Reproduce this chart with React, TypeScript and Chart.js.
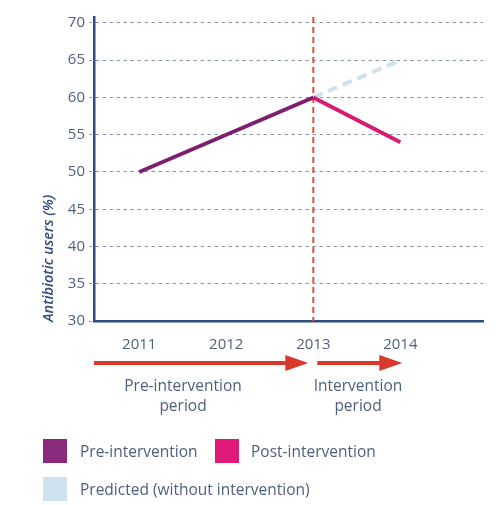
import React, { useEffect, useRef } from "react";
import { Chart, registerables } from "chart.js";

Chart.register(...registerables);

// ---- data ----
const YEARS = [2011, 2012, 2013, 2014];
const PRE_YEARS = [2011, 2013];
const PRE_VALUES = [50, 60];
const POST_YEARS = [2013, 2014];
const POST_VALUES = [60, 54];
const PREDICTED_YEARS = [2013, 2014];
const PREDICTED_VALUES = [60, 65];
const Y_TICKS = [30, 35, 40, 45, 50, 55, 60, 65, 70];
const INTERVENTION_YEAR = 2013;
const SERIES_LABELS = ["Pre-intervention", "Post-intervention", "Predicted (without intervention)"];
const PERIOD_LABELS = [
  ["Pre-intervention", "period"],
  ["Intervention", "period"],
];
const Y_TITLE = "Antibiotic users (%)";

// ---- styles ----
const FONT = "'Open Sans', sans-serif";
const TEXT_COLOR = "#4f5f7e";
const AXIS_COLOR = "#2f4c7e";
const GRID_COLOR = "#8a95ab";
const PRE_COLOR = "#7d1e6f";
const POST_COLOR = "#d81b72";
const PRED_COLOR = "#cde1ee";
const PRE_LEGEND = "#8a2a7c";
const POST_LEGEND = "#e01a78";
const ARROW_COLOR = "#d8392c";
const VLINE_COLOR = "#d4553a";

const toPoints = (xs: number[], ys: number[]) => xs.map((x, i) => ({ x, y: ys[i] }));

const annotationPlugin = {
  id: "annotations",
  beforeDatasetsDraw(chart: any) {
    const { ctx, chartArea, scales } = chart;
    const x = scales.x.getPixelForValue(INTERVENTION_YEAR);
    ctx.save();
    ctx.strokeStyle = VLINE_COLOR;
    ctx.lineWidth = 2;
    ctx.setLineDash([6, 4]);
    ctx.beginPath();
    ctx.moveTo(x, chartArea.top);
    ctx.lineTo(x, chartArea.bottom);
    ctx.stroke();
    ctx.restore();
  },
  afterDraw(chart: any) {
    const { ctx, chartArea, scales } = chart;
    const xs = scales.x;
    const ay = 363;
    const drawArrow = (x0: number, x1: number) => {
      const head = 23;
      const half = 8;
      ctx.save();
      ctx.fillStyle = ARROW_COLOR;
      ctx.strokeStyle = ARROW_COLOR;
      ctx.lineWidth = 4;
      ctx.beginPath();
      ctx.moveTo(x0, ay);
      ctx.lineTo(x1 - head + 1, ay);
      ctx.stroke();
      ctx.beginPath();
      ctx.moveTo(x1, ay);
      ctx.lineTo(x1 - head, ay - half);
      ctx.lineTo(x1 - head, ay + half);
      ctx.closePath();
      ctx.fill();
      ctx.restore();
    };
    const xi = xs.getPixelForValue(INTERVENTION_YEAR);
    const xEnd = xs.getPixelForValue(YEARS[YEARS.length - 1]);
    drawArrow(chartArea.left, xi - 5);
    drawArrow(xi + 4, xEnd + 2);

    // y-axis title
    ctx.save();
    ctx.translate(49, chartArea.bottom + 1);
    ctx.rotate(-Math.PI / 2);
    ctx.font = `italic 600 14.5px ${FONT}`;
    ctx.fillStyle = AXIS_COLOR;
    ctx.textAlign = "left";
    ctx.textBaseline = "middle";
    ctx.fillText(Y_TITLE, 0, 0);
    ctx.restore();
  },
};

export default function App() {
  const ref = useRef<HTMLCanvasElement | null>(null);

  useEffect(() => {
    if (!ref.current) return;
    const chart = new Chart(ref.current, {
      type: "line",
      data: {
        datasets: [
          {
            label: SERIES_LABELS[1],
            data: toPoints(POST_YEARS, POST_VALUES),
            borderColor: POST_COLOR,
            borderWidth: 4,
            pointRadius: 0,
            tension: 0,
          },
          {
            label: SERIES_LABELS[0],
            data: toPoints(PRE_YEARS, PRE_VALUES),
            borderColor: PRE_COLOR,
            borderWidth: 4,
            pointRadius: 0,
            tension: 0,
          },
          {
            label: SERIES_LABELS[2],
            data: toPoints(PREDICTED_YEARS, PREDICTED_VALUES),
            borderColor: PRED_COLOR,
            borderWidth: 4,
            borderDash: [10, 6],
            pointRadius: 0,
            tension: 0,
          },
        ],
      },
      options: {
        animation: false,
        responsive: false,
        layout: { padding: { top: 17, right: 17, left: 0, bottom: 0 } },
        plugins: { legend: { display: false }, tooltip: { enabled: false }, title: { display: false } },
        scales: {
          x: {
            type: "linear",
            min: 2010.48,
            max: 2014.95,
            afterBuildTicks: (s: any) => {
              s.ticks = YEARS.map((v) => ({ value: v }));
            },
            afterFit: (s: any) => {
              s.height = 184;
            },
            grid: { display: false },
            border: { display: true, color: AXIS_COLOR, width: 2.5 },
            ticks: {
              padding: 7,
              color: TEXT_COLOR,
              font: { family: FONT, size: 15 },
              callback: (v: any) => String(v),
              maxRotation: 0,
            },
          },
          y: {
            min: 30,
            max: 70.8,
            afterBuildTicks: (s: any) => {
              s.ticks = Y_TICKS.map((v) => ({ value: v }));
            },
            afterFit: (s: any) => {
              s.width = 94;
            },
            grid: {
              color: GRID_COLOR,
              lineWidth: 1,
              drawTicks: true,
              tickLength: 5,
              tickColor: GRID_COLOR,
              tickBorderDash: [3, 3],
            },
            border: { display: true, color: AXIS_COLOR, width: 2.5, dash: [3.5, 3.5] },
            ticks: {
              padding: 4,
              color: TEXT_COLOR,
              font: { family: FONT, size: 15 },
              callback: (v: any) => String(v),
            },
          },
        },
      },
      plugins: [annotationPlugin],
    } as any);
    return () => chart.destroy();
  }, []);

  const textStyle: React.CSSProperties = {
    position: "absolute",
    fontSize: 15.5,
    color: TEXT_COLOR,
    whiteSpace: "nowrap",
  };
  const square = (left: number, top: number, color: string): React.CSSProperties => ({
    position: "absolute",
    left,
    top,
    width: 24,
    height: 24,
    background: color,
  });

  return (
    <div
      style={{
        position: "absolute",
        left: 0,
        top: 0,
        width: 500,
        height: 505,
        background: "#fff",
        fontFamily: FONT,
        overflow: "hidden",
      }}
    >
      <canvas ref={ref} width={500} height={505} style={{ display: "block" }} />
      <div style={{ ...textStyle, left: 83, width: 200, top: 375, lineHeight: "20px", textAlign: "center" }}>
        {PERIOD_LABELS[0][0]}
        <br />
        {PERIOD_LABELS[0][1]}
      </div>
      <div style={{ ...textStyle, left: 258, width: 200, top: 375, lineHeight: "20px", textAlign: "center" }}>
        {PERIOD_LABELS[1][0]}
        <br />
        {PERIOD_LABELS[1][1]}
      </div>
      <div style={square(43, 439, PRE_LEGEND)} />
      <div style={{ ...textStyle, left: 80, top: 439, lineHeight: "24px" }}>{SERIES_LABELS[0]}</div>
      <div style={square(215, 439, POST_LEGEND)} />
      <div style={{ ...textStyle, left: 251, top: 439, lineHeight: "24px" }}>{SERIES_LABELS[1]}</div>
      <div style={square(43, 477, PRED_COLOR)} />
      <div style={{ ...textStyle, left: 80, top: 477, lineHeight: "24px" }}>{SERIES_LABELS[2]}</div>
    </div>
  );
}
